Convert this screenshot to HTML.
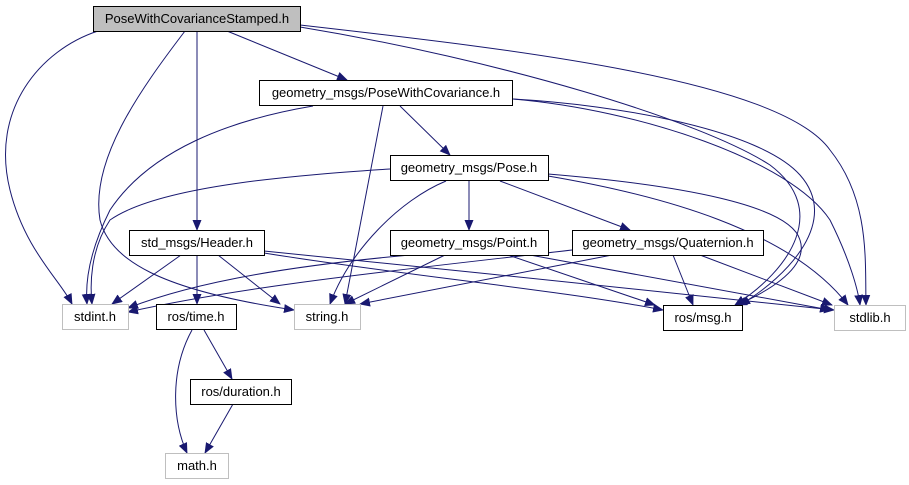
<!DOCTYPE html>
<html><head><meta charset="utf-8"><style>
html,body{margin:0;padding:0;background:#fff;width:909px;height:485px;overflow:hidden}
text{font-family:"Liberation Sans",sans-serif;font-size:13px;text-anchor:middle;fill:#000}
</style></head><body>
<svg width="909" height="485" viewBox="0 0 909 485" xmlns="http://www.w3.org/2000/svg">
<defs><marker id="a" markerWidth="11" markerHeight="9" refX="10" refY="4.5" orient="auto" markerUnits="userSpaceOnUse"><path d="M0,0 L11,4.5 L0,9 z" fill="#191970"/></marker></defs>
<g fill="none" stroke="#191970" stroke-width="1" marker-end="url(#a)">
<path d="M98,31 C40,50 -10,110 10,190 C25,250 60,280 72,304"/>
<path d="M185,31 C140,90 90,160 100,220 C110,260 160,290 294,310"/>
<path d="M197,31 L197,230"/>
<path d="M227,31 L347,80"/>
<path d="M300,25 C520,50 780,80 830,150 C870,200 865,260 866,305"/>
<path d="M300,27 C500,60 700,120 770,165 C830,210 790,270 735,305"/>
<path d="M313,106 C230,120 150,150 110,210 C90,250 85,280 87,304"/>
<path d="M383,106 L345,304"/>
<path d="M400,106 L450,155"/>
<path d="M513,99 C620,105 760,130 800,175 C840,220 790,275 740,305"/>
<path d="M513,99 C640,110 790,160 830,220 C850,260 858,290 860,305"/>
<path d="M390,169 C300,175 160,185 110,220 C90,250 90,285 92,304"/>
<path d="M446,181 C400,200 350,250 330,304"/>
<path d="M469,181 L469,230"/>
<path d="M500,181 L630,230"/>
<path d="M548,174 C680,185 790,205 800,240 C810,270 760,295 737,305"/>
<path d="M548,176 C660,195 790,230 848,305"/>
<path d="M181,255 L112,304"/>
<path d="M197,255 L197,304"/>
<path d="M218,255 L280,304"/>
<path d="M264,253 C400,275 560,290 663,310"/>
<path d="M264,251 C450,270 700,295 834,310"/>
<path d="M410,255 C300,265 200,280 128,308"/>
<path d="M445,255 L345,304"/>
<path d="M508,255 L655,305"/>
<path d="M530,255 L830,310"/>
<path d="M572,250 C400,270 250,285 128,312"/>
<path d="M612,255 L360,304"/>
<path d="M673,255 L693,305"/>
<path d="M700,255 L832,305"/>
<path d="M192,330 C170,370 172,420 187,453"/>
<path d="M204,330 L232,379"/>
<path d="M233,404 L205,453"/>
</g>
<g stroke-width="1">
<rect x="93.5" y="6.5" width="207" height="25" fill="#bfbfbf" stroke="#000"/>
<text x="197" y="23">PoseWithCovarianceStamped.h</text>
<rect x="259.5" y="80.5" width="253" height="25" fill="#fff" stroke="#000"/>
<text x="386" y="97">geometry_msgs/PoseWithCovariance.h</text>
<rect x="390.5" y="155.5" width="158" height="25" fill="#fff" stroke="#000"/>
<text x="469" y="172">geometry_msgs/Pose.h</text>
<rect x="129.5" y="230.5" width="135" height="25" fill="#fff" stroke="#000"/>
<text x="197" y="247">std_msgs/Header.h</text>
<rect x="390.5" y="230.5" width="158" height="25" fill="#fff" stroke="#000"/>
<text x="469" y="247">geometry_msgs/Point.h</text>
<rect x="572.5" y="230.5" width="191" height="25" fill="#fff" stroke="#000"/>
<text x="668" y="247">geometry_msgs/Quaternion.h</text>
<rect x="62.5" y="304.5" width="66" height="25" fill="#fff" stroke="#bfbfbf"/>
<text x="95" y="321">stdint.h</text>
<rect x="156.5" y="304.5" width="80" height="25" fill="#fff" stroke="#000"/>
<text x="196" y="321">ros/time.h</text>
<rect x="294.5" y="304.5" width="66" height="25" fill="#fff" stroke="#bfbfbf"/>
<text x="327" y="321">string.h</text>
<rect x="663.5" y="305.5" width="79" height="25" fill="#fff" stroke="#000"/>
<text x="703" y="322">ros/msg.h</text>
<rect x="834.5" y="305.5" width="71" height="25" fill="#fff" stroke="#bfbfbf"/>
<text x="870" y="322">stdlib.h</text>
<rect x="190.5" y="379.5" width="101" height="25" fill="#fff" stroke="#000"/>
<text x="241" y="396">ros/duration.h</text>
<rect x="165.5" y="453.5" width="63" height="25" fill="#fff" stroke="#bfbfbf"/>
<text x="197" y="470">math.h</text>
</g>
</svg>
</body></html>
